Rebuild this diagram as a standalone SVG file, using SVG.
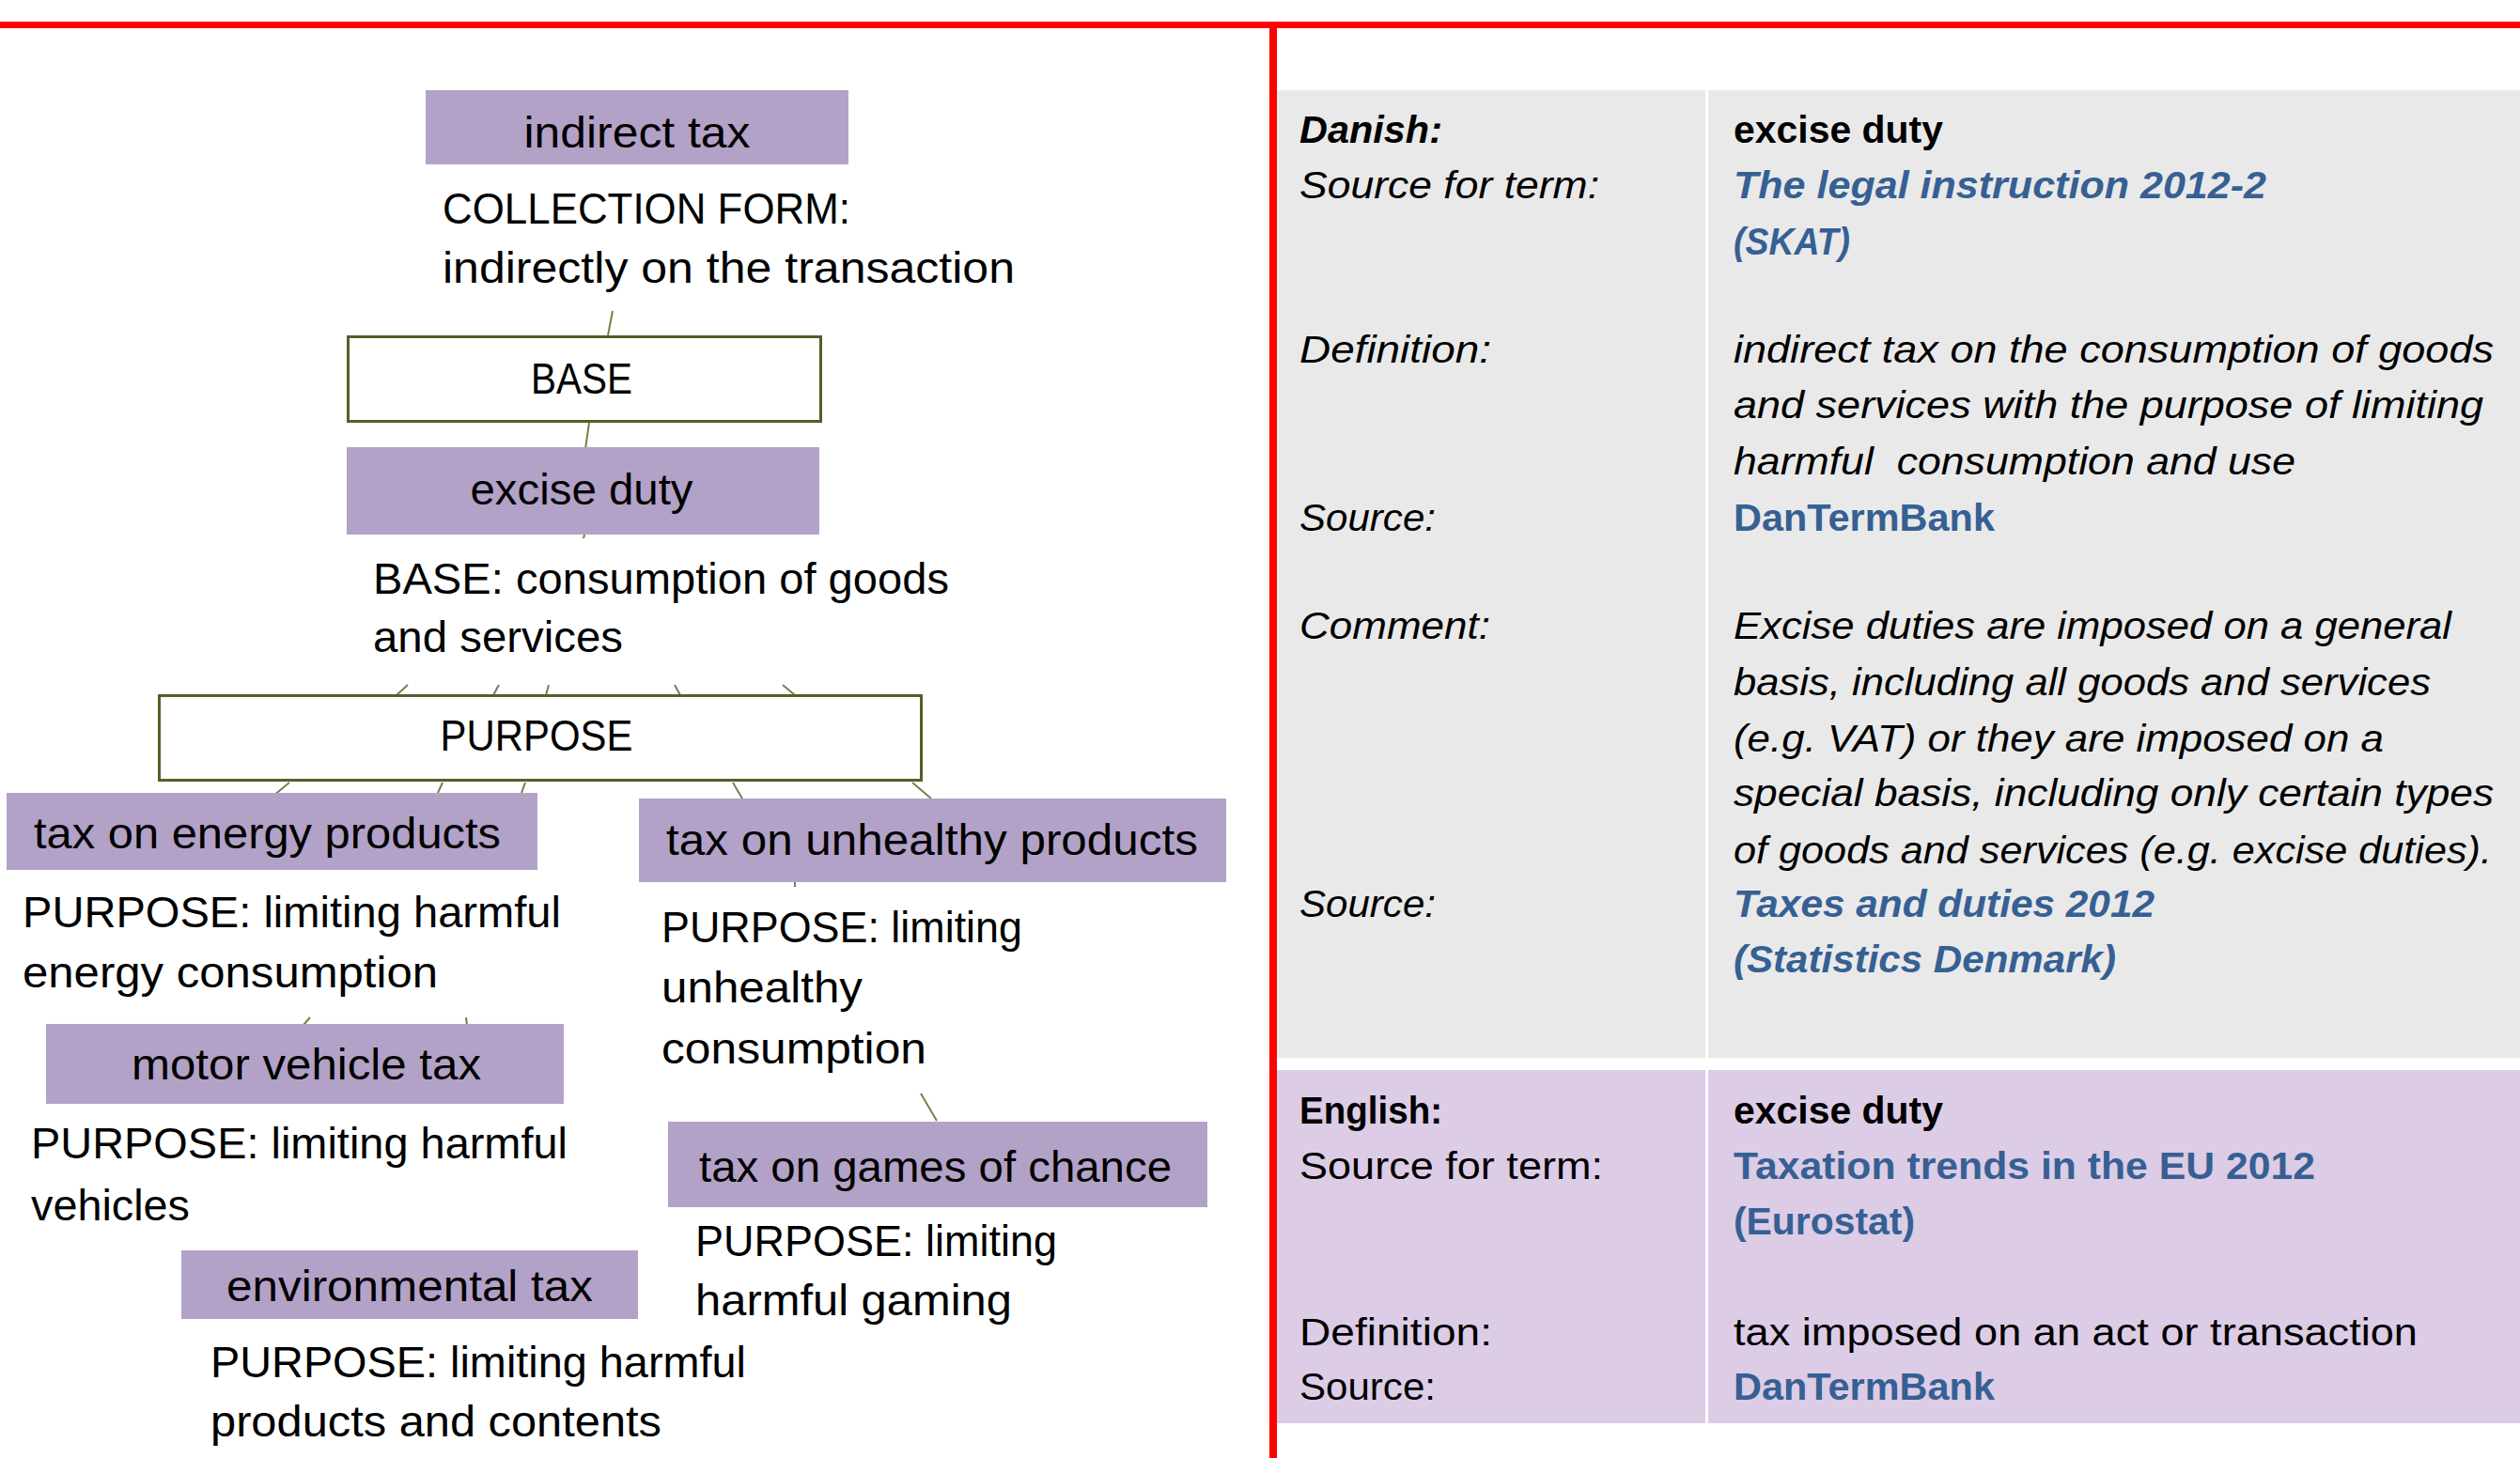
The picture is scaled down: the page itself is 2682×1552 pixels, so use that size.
<svg xmlns="http://www.w3.org/2000/svg" width="2682" height="1552" viewBox="0 0 2682 1552">
<style>
.t{font-family:"Liberation Sans",Arial,sans-serif;font-size:46px;fill:#000}
.c{text-anchor:middle}
.tb{font-family:"Liberation Sans",Arial,sans-serif;font-size:41px;fill:#000}
.i{font-style:italic}
.b{font-weight:bold}
.blue{fill:#366093}
.pbox{fill:#b2a2c7}
.wbox{fill:#fff;stroke:#4f6228;stroke-width:3}
.con line{stroke:#71824c;stroke-width:2}
</style>
<rect width="2682" height="1552" fill="#fff"/>
<g id="table">
<rect x="1359" y="96" width="1323" height="1030" fill="#e9e9e9"/>
<rect x="1359" y="1139" width="1323" height="376" fill="#dccce6"/>
<rect x="1815" y="96" width="3" height="1419" fill="#fff"/>
<g class="tb">
<text x="1383" y="152" class="b i" textLength="152" lengthAdjust="spacingAndGlyphs">Danish:</text>
<text x="1383" y="211" class="i" textLength="319" lengthAdjust="spacingAndGlyphs">Source for term:</text>
<text x="1383" y="386" class="i" textLength="204" lengthAdjust="spacingAndGlyphs">Definition:</text>
<text x="1383" y="565" class="i" textLength="145" lengthAdjust="spacingAndGlyphs">Source:</text>
<text x="1383" y="680" class="i" textLength="203" lengthAdjust="spacingAndGlyphs">Comment:</text>
<text x="1383" y="976" class="i" textLength="145" lengthAdjust="spacingAndGlyphs">Source:</text>
<text x="1845" y="152" class="b" textLength="223" lengthAdjust="spacingAndGlyphs">excise duty</text>
<text x="1845" y="211" class="b i blue" textLength="567" lengthAdjust="spacingAndGlyphs">The legal instruction 2012-2</text>
<text x="1845" y="271" class="b i blue" textLength="124" lengthAdjust="spacingAndGlyphs">(SKAT)</text>
<text x="1845" y="386" class="i" textLength="809" lengthAdjust="spacingAndGlyphs">indirect tax on the consumption of goods</text>
<text x="1845" y="445" class="i" textLength="798" lengthAdjust="spacingAndGlyphs">and services with the purpose of limiting</text>
<text x="1845" y="505" class="i" textLength="598" lengthAdjust="spacingAndGlyphs" xml:space="preserve">harmful  consumption and use</text>
<text x="1845" y="565" class="b blue" textLength="278" lengthAdjust="spacingAndGlyphs">DanTermBank</text>
<text x="1845" y="680" class="i" textLength="764" lengthAdjust="spacingAndGlyphs">Excise duties are imposed on a general</text>
<text x="1845" y="740" class="i" textLength="742" lengthAdjust="spacingAndGlyphs">basis, including all goods and services</text>
<text x="1845" y="800" class="i" textLength="692" lengthAdjust="spacingAndGlyphs">(e.g. VAT) or they are imposed on a</text>
<text x="1845" y="858" class="i" textLength="809" lengthAdjust="spacingAndGlyphs">special basis, including only certain types</text>
<text x="1845" y="919" class="i" textLength="807" lengthAdjust="spacingAndGlyphs">of goods and services (e.g. excise duties).</text>
<text x="1845" y="976" class="b i blue" textLength="448" lengthAdjust="spacingAndGlyphs">Taxes and duties 2012</text>
<text x="1845" y="1035" class="b i blue" textLength="407" lengthAdjust="spacingAndGlyphs">(Statistics Denmark)</text>
<text x="1383" y="1196" class="b" textLength="152" lengthAdjust="spacingAndGlyphs">English:</text>
<text x="1383" y="1255" textLength="323" lengthAdjust="spacingAndGlyphs">Source for term:</text>
<text x="1383" y="1432" textLength="205" lengthAdjust="spacingAndGlyphs">Definition:</text>
<text x="1383" y="1490" textLength="145" lengthAdjust="spacingAndGlyphs">Source:</text>
<text x="1845" y="1196" class="b" textLength="223" lengthAdjust="spacingAndGlyphs">excise duty</text>
<text x="1845" y="1255" class="b blue" textLength="619" lengthAdjust="spacingAndGlyphs">Taxation trends in the EU 2012</text>
<text x="1845" y="1314" class="b blue" textLength="193" lengthAdjust="spacingAndGlyphs">(Eurostat)</text>
<text x="1845" y="1432" textLength="728" lengthAdjust="spacingAndGlyphs">tax imposed on an act or transaction</text>
<text x="1845" y="1490" class="b blue" textLength="278" lengthAdjust="spacingAndGlyphs">DanTermBank</text>
</g>
</g>
<g id="frame">
<rect x="0" y="23" width="2682" height="7" fill="#ff0000"/>
<rect x="1351" y="23" width="8" height="1529" fill="#ff0000"/>
</g>
<g id="connectors" class="con">
<line x1="652" y1="331" x2="647" y2="357"/>
<line x1="627" y1="450" x2="623" y2="478"/>
<line x1="622" y1="569" x2="621" y2="573"/>
<line x1="434" y1="729" x2="422" y2="740"/>
<line x1="531" y1="729" x2="525" y2="740"/>
<line x1="584" y1="729" x2="581" y2="740"/>
<line x1="718" y1="729" x2="724" y2="740"/>
<line x1="833" y1="729" x2="846" y2="740"/>
<line x1="308" y1="833" x2="291" y2="847"/>
<line x1="471" y1="833" x2="466" y2="844"/>
<line x1="559" y1="833" x2="555" y2="844"/>
<line x1="780" y1="833" x2="790" y2="850"/>
<line x1="971" y1="833" x2="991" y2="850"/>
<line x1="846" y1="939" x2="846" y2="944"/>
<line x1="330" y1="1083" x2="323" y2="1091"/>
<line x1="496" y1="1083" x2="497" y2="1091"/>
<line x1="980" y1="1164" x2="997" y2="1193"/>
</g>
<g id="indirect-tax">
<rect class="pbox" x="453" y="96" width="450" height="79"/>
<text class="t c" x="678" y="157" textLength="241" lengthAdjust="spacingAndGlyphs">indirect tax</text>
</g>
<g id="collection-form">
<text class="t" x="471" y="238" textLength="434" lengthAdjust="spacingAndGlyphs">COLLECTION FORM:</text>
<text class="t" x="471" y="301" textLength="609" lengthAdjust="spacingAndGlyphs">indirectly on the transaction</text>
</g>
<g id="base">
<rect class="wbox" x="370.5" y="358.5" width="503" height="90"/>
<text class="t c" x="619" y="419" textLength="108" lengthAdjust="spacingAndGlyphs">BASE</text>
</g>
<g id="excise-duty">
<rect class="pbox" x="369" y="476" width="503" height="93"/>
<text class="t c" x="619" y="537" textLength="237" lengthAdjust="spacingAndGlyphs">excise duty</text>
</g>
<g id="base-text">
<text class="t" x="397" y="632" textLength="613" lengthAdjust="spacingAndGlyphs">BASE: consumption of goods</text>
<text class="t" x="397" y="694" textLength="266" lengthAdjust="spacingAndGlyphs">and services</text>
</g>
<g id="purpose">
<rect class="wbox" x="169.5" y="740.5" width="811" height="90"/>
<text class="t c" x="571" y="799" textLength="205" lengthAdjust="spacingAndGlyphs">PURPOSE</text>
</g>
<g id="tax-energy">
<rect class="pbox" x="7" y="844" width="565" height="82"/>
<text class="t" x="36" y="903" textLength="497" lengthAdjust="spacingAndGlyphs">tax on energy products</text>
<text class="t" x="24" y="987" textLength="573" lengthAdjust="spacingAndGlyphs">PURPOSE: limiting harmful</text>
<text class="t" x="24" y="1051" textLength="442" lengthAdjust="spacingAndGlyphs">energy consumption</text>
</g>
<g id="tax-unhealthy">
<rect class="pbox" x="680" y="850" width="625" height="89"/>
<text class="t" x="709" y="910" textLength="566" lengthAdjust="spacingAndGlyphs">tax on unhealthy products</text>
<text class="t" x="704" y="1003" textLength="384" lengthAdjust="spacingAndGlyphs">PURPOSE: limiting</text>
<text class="t" x="704" y="1067" textLength="214" lengthAdjust="spacingAndGlyphs">unhealthy</text>
<text class="t" x="704" y="1132" textLength="282" lengthAdjust="spacingAndGlyphs">consumption</text>
</g>
<g id="motor-vehicle">
<rect class="pbox" x="49" y="1090" width="551" height="85"/>
<text class="t" x="140" y="1149" textLength="372" lengthAdjust="spacingAndGlyphs">motor vehicle tax</text>
<text class="t" x="33" y="1233" textLength="571" lengthAdjust="spacingAndGlyphs">PURPOSE: limiting harmful</text>
<text class="t" x="33" y="1299" textLength="169" lengthAdjust="spacingAndGlyphs">vehicles</text>
</g>
<g id="games-of-chance">
<rect class="pbox" x="711" y="1194" width="574" height="91"/>
<text class="t" x="744" y="1258" textLength="503" lengthAdjust="spacingAndGlyphs">tax on games of chance</text>
<text class="t" x="740" y="1337" textLength="385" lengthAdjust="spacingAndGlyphs">PURPOSE: limiting</text>
<text class="t" x="740" y="1400" textLength="337" lengthAdjust="spacingAndGlyphs">harmful gaming</text>
</g>
<g id="environmental">
<rect class="pbox" x="193" y="1331" width="486" height="73"/>
<text class="t" x="241" y="1385" textLength="390" lengthAdjust="spacingAndGlyphs">environmental tax</text>
<text class="t" x="224" y="1466" textLength="570" lengthAdjust="spacingAndGlyphs">PURPOSE: limiting harmful</text>
<text class="t" x="224" y="1529" textLength="480" lengthAdjust="spacingAndGlyphs">products and contents</text>
</g>
</svg>
